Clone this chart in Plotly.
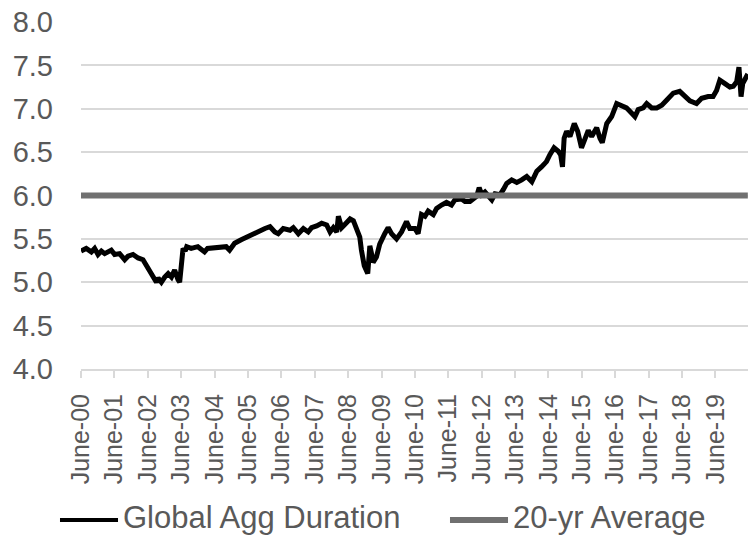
import plotly.graph_objects as go

# Global Agg duration readings (date, years)
dates = [
    "2000-06-01", "2000-07-28", "2000-09-22", "2000-10-28", "2000-12-04", "2001-01-10",
    "2001-02-15", "2001-04-28", "2001-06-04", "2001-07-28", "2001-09-22", "2001-10-28",
    "2001-12-22", "2002-02-15", "2002-04-10", "2002-05-16", "2002-06-22", "2002-07-28",
    "2002-09-04", "2002-09-22", "2002-10-28", "2002-12-04", "2003-01-10", "2003-02-15",
    "2003-03-22", "2003-04-28", "2003-05-16", "2003-06-22", "2003-07-16", "2003-08-01",
    "2003-09-19", "2003-12-01", "2004-02-12", "2004-03-16", "2004-06-01", "2004-08-12",
    "2004-10-06", "2004-11-12", "2005-01-06", "2005-03-19", "2005-05-12", "2005-07-10",
    "2005-09-22", "2005-12-04", "2006-01-28", "2006-03-22", "2006-04-28", "2006-06-22",
    "2006-09-04", "2006-10-10", "2006-12-04", "2007-01-28", "2007-03-22", "2007-04-28",
    "2007-06-22", "2007-08-16", "2007-10-10", "2007-11-16", "2007-12-22", "2008-01-28",
    "2008-02-15", "2008-03-22", "2008-04-28", "2008-06-22", "2008-07-28", "2008-09-01",
    "2008-10-06", "2008-10-24", "2008-11-24", "2009-01-01", "2009-01-24", "2009-02-12",
    "2009-03-01", "2009-04-06", "2009-05-12", "2009-07-06", "2009-08-12", "2009-09-19",
    "2009-11-12", "2010-01-06", "2010-03-01", "2010-04-06", "2010-06-01", "2010-07-06",
    "2010-08-12", "2010-09-19", "2010-10-24", "2010-12-19", "2011-01-24", "2011-03-19",
    "2011-05-12", "2011-07-06", "2011-08-12", "2011-10-24", "2011-12-01", "2012-01-24",
    "2012-03-01", "2012-04-06", "2012-05-04", "2012-06-01", "2012-07-06", "2012-08-12",
    "2012-09-19", "2012-10-24", "2012-12-19", "2013-01-24", "2013-03-01", "2013-04-24",
    "2013-06-19", "2013-08-12", "2013-10-06", "2013-12-01", "2014-01-24", "2014-03-16",
    "2014-05-10", "2014-06-16", "2014-08-01", "2014-09-16", "2014-10-12", "2014-11-01",
    "2014-11-19", "2014-12-16", "2015-01-22", "2015-03-10", "2015-04-16", "2015-05-28",
    "2015-07-04", "2015-08-10", "2015-09-16", "2015-11-10", "2015-12-16", "2016-01-10",
    "2016-02-28", "2016-04-22", "2016-06-16", "2016-08-10", "2016-10-01", "2016-11-25",
    "2017-01-01", "2017-02-06", "2017-04-01", "2017-05-10", "2017-07-04", "2017-08-28",
    "2017-10-22", "2017-12-16", "2018-02-25", "2018-05-06", "2018-07-01", "2018-08-25",
    "2018-11-06", "2019-01-01", "2019-03-13", "2019-05-06", "2019-06-13", "2019-07-19",
    "2019-09-13", "2019-11-06", "2019-12-13", "2020-01-19", "2020-02-13", "2020-03-07",
    "2020-03-25", "2020-05-06", "2020-05-20",
]
duration = [
    5.36, 5.39, 5.35, 5.39, 5.32, 5.36,
    5.33, 5.37, 5.32, 5.33, 5.26, 5.30,
    5.32, 5.28, 5.26, 5.20, 5.14, 5.08,
    5.00, 5.05, 5.00, 5.06, 5.10, 5.06,
    5.14, 5.03, 5.00, 5.39, 5.36, 5.41,
    5.39, 5.41, 5.35, 5.39, 5.40, 5.40,
    5.41, 5.37, 5.45, 5.49, 5.52, 5.54,
    5.58, 5.62, 5.64, 5.58, 5.56, 5.62,
    5.60, 5.63, 5.56, 5.62, 5.58, 5.63,
    5.65, 5.68, 5.66, 5.58, 5.63, 5.58,
    5.76, 5.63, 5.67, 5.73, 5.71, 5.63,
    5.52, 5.37, 5.19, 5.10, 5.42, 5.33,
    5.23, 5.29, 5.44, 5.56, 5.63, 5.56,
    5.50, 5.58, 5.70, 5.62, 5.62, 5.56,
    5.78, 5.76, 5.82, 5.78, 5.85, 5.89,
    5.92, 5.89, 5.95, 5.96, 5.93, 5.93,
    5.97, 5.99, 6.09, 6.01, 6.04, 5.99,
    5.95, 6.02, 6.01, 6.07, 6.14, 6.18,
    6.15, 6.18, 6.22, 6.16, 6.28, 6.33,
    6.39, 6.47, 6.55, 6.51, 6.47, 6.33,
    6.66, 6.74, 6.68, 6.83, 6.74, 6.55,
    6.64, 6.75, 6.68, 6.78, 6.66, 6.61,
    6.83, 6.91, 7.06, 7.04, 7.01, 6.95,
    6.91, 6.99, 7.01, 7.06, 7.01, 7.01,
    7.04, 7.10, 7.18, 7.20, 7.14, 7.09,
    7.06, 7.12, 7.14, 7.14, 7.21, 7.33,
    7.29, 7.25, 7.26, 7.31, 7.48, 7.14,
    7.29, 7.37, 7.40,
]

# 20-year average, drawn across the full period
avg_dates = ["2000-06-01", "2020-05-20"]
avg_value = [6.0, 6.0]

# Axis ticks
tick_dates = [f"{y}-06-01" for y in range(2000, 2020)]
tick_labels = [f"June-{y % 100:02d}" for y in range(2000, 2020)]
y_ticks = [4.0, 4.5, 5.0, 5.5, 6.0, 6.5, 7.0, 7.5, 8.0]

FONT = "Liberation Sans, Arial, sans-serif"
TXT = "#595959"
GRID = "#d9d9d9"
LINE_BLACK = "#000000"
LINE_GREY = "#707070"

fig = go.Figure()
fig.add_trace(go.Scatter(
    x=dates, y=duration, mode="lines", name="Global Agg Duration",
    line=dict(color=LINE_BLACK, width=5), showlegend=False,
))
fig.add_trace(go.Scatter(
    x=avg_dates, y=avg_value, mode="lines", name="20-yr Average",
    line=dict(color=LINE_GREY, width=6), showlegend=False,
))

# Legend row below the axis: a line sample followed by its label
line_y = -0.435
text_y = -0.428
legend_items = [
    ("Global Agg Duration", LINE_BLACK, 4, -0.0315, 0.0555),
    ("20-yr Average", LINE_GREY, 6, 0.5532, 0.6402),
]
for label, color, width, x0, x1 in legend_items:
    fig.add_shape(
        type="line", xref="paper", yref="paper",
        x0=x0, x1=x1, y0=line_y, y1=line_y,
        line=dict(color=color, width=width),
    )
    fig.add_annotation(
        text=label, xref="paper", yref="paper", x=x1 + 0.004, y=text_y,
        xanchor="left", yanchor="middle", showarrow=False,
        font=dict(family=FONT, size=31, color=TXT),
    )

fig.update_layout(
    width=748, height=538,
    margin=dict(l=81, r=0, t=22, b=169),
    paper_bgcolor="white", plot_bgcolor="white",
    font=dict(family=FONT, color=TXT),
    showlegend=False,
    xaxis=dict(
        type="date", range=["2000-06-01", "2020-05-22"],
        tickmode="array", tickvals=tick_dates, ticktext=tick_labels,
        tickangle=-90, tickfont=dict(size=25, color=TXT),
        showgrid=False, showline=True, linecolor=GRID, linewidth=2,
        ticks="outside", ticklen=7, tickcolor=GRID, tickwidth=2,
        zeroline=False, ticklabelstandoff=6,
    ),
    yaxis=dict(
        range=[4, 8], tickmode="array", tickvals=y_ticks,
        ticktext=[f"{v:.1f}" for v in y_ticks],
        tickfont=dict(size=29, color=TXT),
        showgrid=True, gridcolor=GRID, gridwidth=2,
        zeroline=False, showline=False, ticks="",
        ticklabelstandoff=27,
    ),
)

fig.write_html("out.html")
